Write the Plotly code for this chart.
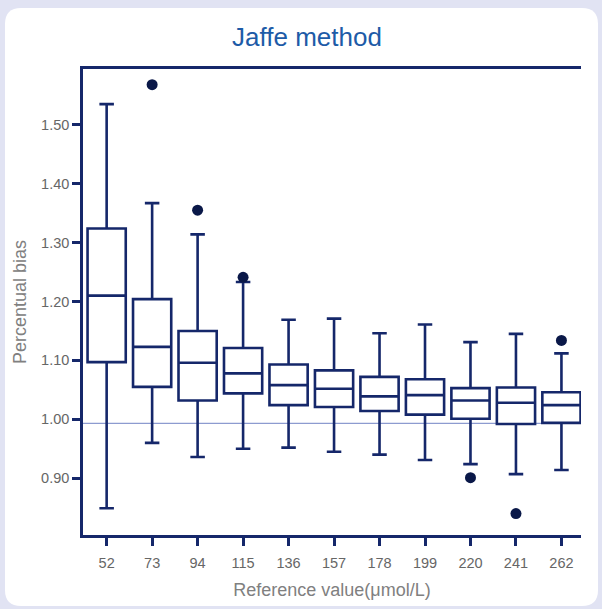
import plotly.graph_objects as go

categories = ["52", "73", "94", "115", "136", "157", "178", "199", "220", "241", "262"]
upper_whisker = [1.535, 1.367, 1.314, 1.233, 1.169, 1.171, 1.146, 1.161, 1.131, 1.145, 1.112]
q3_values = [1.324, 1.204, 1.150, 1.121, 1.093, 1.083, 1.072, 1.068, 1.053, 1.054, 1.046]
median_values = [1.210, 1.123, 1.096, 1.078, 1.058, 1.052, 1.039, 1.041, 1.032, 1.028, 1.024]
q1_values = [1.097, 1.055, 1.032, 1.044, 1.024, 1.021, 1.014, 1.008, 1.001, 0.992, 0.994]
lower_whisker = [0.849, 0.960, 0.936, 0.950, 0.952, 0.945, 0.940, 0.931, 0.924, 0.907, 0.914]

outlier_categories = ["73", "94", "115", "220", "241", "262"]
outlier_values = [1.568, 1.355, 1.241, 0.901, 0.840, 1.134]

reference_level = 0.993

NAVY = "#15276a"
DOT = "#0a1848"
GRAY = "#666666"
TITLE_GRAY = "#808080"

fig = go.Figure()
fig.add_trace(go.Box(
    x=categories, q1=q1_values, median=median_values, q3=q3_values,
    lowerfence=lower_whisker, upperfence=upper_whisker,
    fillcolor="white", line=dict(color=NAVY, width=2.6),
    whiskerwidth=0.38, boxpoints=False, showlegend=False, hoverinfo="skip",
))
fig.add_trace(go.Scatter(
    x=outlier_categories, y=outlier_values, mode="markers",
    marker=dict(color=DOT, size=11), showlegend=False,
))

W, H = 602, 609
ml, mr, mt, mb = 83, 21, 69, 74
pw, ph = W - ml - mr, H - mt - mb

def px(x):
    return (x - ml) / pw

def py(y):
    return (H - mb - y) / ph

# rounded white card
x0, y0, x1, y1, r = 5, 8, 598, 606, 16
path = (
    f"M {px(x0+r)},{py(y0)} L {px(x1-r)},{py(y0)} Q {px(x1)},{py(y0)} {px(x1)},{py(y0+r)} "
    f"L {px(x1)},{py(y1-r)} Q {px(x1)},{py(y1)} {px(x1-r)},{py(y1)} "
    f"L {px(x0+r)},{py(y1)} Q {px(x0)},{py(y1)} {px(x0)},{py(y1-r)} "
    f"L {px(x0)},{py(y0+r)} Q {px(x0)},{py(y0)} {px(x0+r)},{py(y0)} Z"
)
fig.add_shape(type="path", path=path, xref="paper", yref="paper",
              fillcolor="white", line=dict(width=0), layer="below")
fig.add_shape(type="line", xref="paper", yref="y", x0=0, x1=1,
              y0=reference_level, y1=reference_level,
              line=dict(color="#8d9bd0", width=1.2), layer="below")

fig.update_layout(
    width=W, height=H,
    margin=dict(l=ml, r=mr, t=mt, b=mb),
    paper_bgcolor="#e1e3f3",
    plot_bgcolor="rgba(0,0,0,0)",
    font=dict(family="Liberation Sans, Arial, sans-serif", color=GRAY, size=14.5),
    title=dict(text="Jaffe method", x=307 / W, xref="container", xanchor="center",
               y=1 - 37 / H, yanchor="middle",
               font=dict(size=26, color="#1d5ba7")),
    boxgap=0.16, boxgroupgap=0,
    xaxis=dict(
        type="category", range=[-0.52, 10.43],
        showline=True, linecolor=NAVY, linewidth=2.5, mirror=True,
        ticks="outside", ticklen=8, tickwidth=2.5, tickcolor=NAVY,
        showgrid=False, zeroline=False, ticklabelstandoff=5,
        tickfont=dict(size=14.5, color=GRAY),
        title=dict(text="Reference value(μmol/L)", font=dict(size=18, color=TITLE_GRAY), standoff=14),
    ),
    yaxis=dict(
        range=[0.8036, 1.5947],
        tickvals=[0.9, 1.0, 1.1, 1.2, 1.3, 1.4, 1.5], tickformat=".2f",
        showline=True, linecolor=NAVY, linewidth=2.5, mirror=False,
        ticks="outside", ticklen=8, tickwidth=2.5, tickcolor=NAVY,
        showgrid=False, zeroline=False,
        tickfont=dict(size=14.5, color=GRAY),
        title=dict(text="Percentual bias", font=dict(size=18, color=TITLE_GRAY), standoff=10),
    ),
)

fig.write_html("out.html")
